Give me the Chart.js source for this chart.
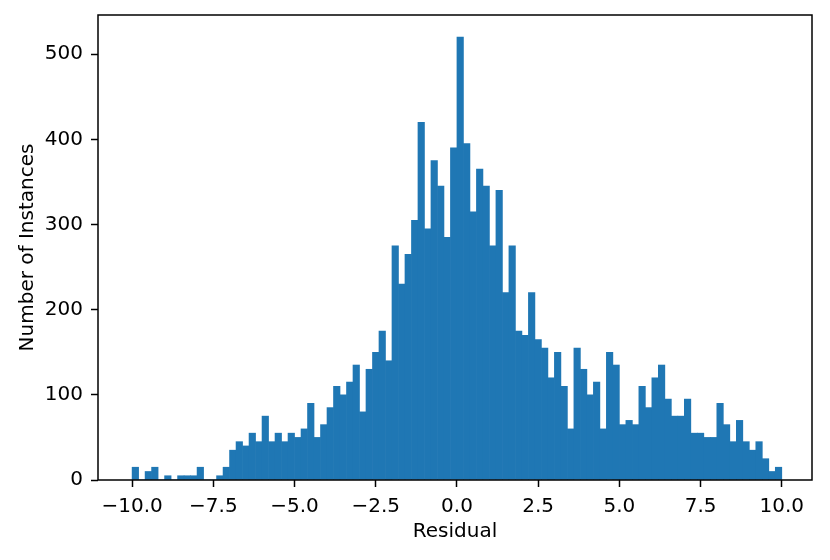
<!DOCTYPE html>
<html>
<head>
<meta charset="utf-8">
<script src="https://cdn.jsdelivr.net/npm/chart.js@4"></script>
<style>
  html, body { margin: 0; padding: 0; background: #fff; }
</style>
</head>
<body>
<canvas id="hist" width="830" height="560"></canvas>
<script>
// histogram bins: 100 bins of width 0.2 from -10 to 10
const binStart = -10
const binWidth = 0.2
const counts = [
  15, 0, 10, 15, 0, 5, 0, 5, 5, 5,
  15, 0, 0, 5, 15, 35, 45, 40, 55, 45,
  75, 45, 55, 45, 55, 50, 60, 90, 50, 65,
  85, 110, 100, 115, 135, 80, 130, 150, 175, 140,
  275, 230, 265, 305, 420, 295, 375, 345, 285, 390,
  520, 395, 315, 365, 345, 275, 340, 220, 275, 175,
  170, 220, 165, 155, 120, 150, 110, 60, 155, 130,
  100, 115, 60, 150, 135, 65, 70, 65, 110, 85,
  120, 135, 95, 75, 75, 95, 55, 55, 50, 50,
  90, 65, 45, 70, 45, 35, 45, 25, 10, 15
]
const xTicks = [-10, -7.5, -5, -2.5, 0, 2.5, 5, 7.5, 10]
const yTicks = [0, 100, 200, 300, 400, 500]

const points = counts.map((c, i) => ({ x: binStart + binWidth * (i + 0.5), y: c }))

const fontFamily = "'DejaVu Sans', sans-serif"
const fontSize = 20

// draw the full black frame around the plot area like matplotlib spines
const frame = {
  id: "frame",
  afterDraw(chart) {
    const { ctx, chartArea: a } = chart
    ctx.save()
    ctx.strokeStyle = "#000"
    ctx.lineWidth = 1.5
    ctx.strokeRect(a.left, a.top, a.right - a.left, a.bottom - a.top)
    ctx.restore()
  }
}

const fmt = v => {
  const s = Math.abs(v).toFixed(1)
  return v < 0 ? "\u2212" + s : s
}

new Chart(document.getElementById("hist"), {
  type: "bar",
  data: {
    datasets: [{
      data: points,
      backgroundColor: "#1f77b4",
      borderWidth: 0,
      barPercentage: 1,
      categoryPercentage: 1
    }]
  },
  options: {
    responsive: false,
    animation: false,
    layout: { padding: { top: 15, right: 18, left: 0, bottom: 0 } },
    plugins: { legend: { display: false }, tooltip: { enabled: false } },
    scales: {
      x: {
        type: "linear",
        offset: false,
        min: -11.05,
        max: 10.93,
        afterFit: s => { s.height = 80; s.paddingLeft = 0; s.paddingRight = 0 },
        afterBuildTicks: s => { s.ticks = xTicks.map(v => ({ value: v })) },
        border: { display: false },
        grid: { offset: false, drawOnChartArea: false, tickLength: 7, tickWidth: 1.5, tickColor: "#000" },
        ticks: {
          color: "#000",
          padding: 8,
          maxRotation: 0,
          font: { family: fontFamily, size: fontSize },
          callback: v => fmt(v)
        },
        title: {
          display: true,
          text: "Residual",
          color: "#000",
          padding: { top: 0, bottom: 16 },
          font: { family: fontFamily, size: fontSize }
        }
      },
      y: {
        min: 0,
        max: 546,
        afterFit: s => { s.width = 98; s.paddingTop = 0; s.paddingBottom = 0 },
        afterBuildTicks: s => { s.ticks = yTicks.map(v => ({ value: v })) },
        border: { display: false },
        grid: { drawOnChartArea: false, tickLength: 7, tickWidth: 1.5, tickColor: "#000" },
        ticks: {
          color: "#000",
          padding: 8,
          font: { family: fontFamily, size: fontSize }
        },
        title: {
          display: true,
          text: "Number of Instances",
          color: "#000",
          padding: { top: 16, bottom: 0 },
          font: { family: fontFamily, size: fontSize }
        }
      }
    }
  },
  plugins: [frame]
})
</script>
</body>
</html>
